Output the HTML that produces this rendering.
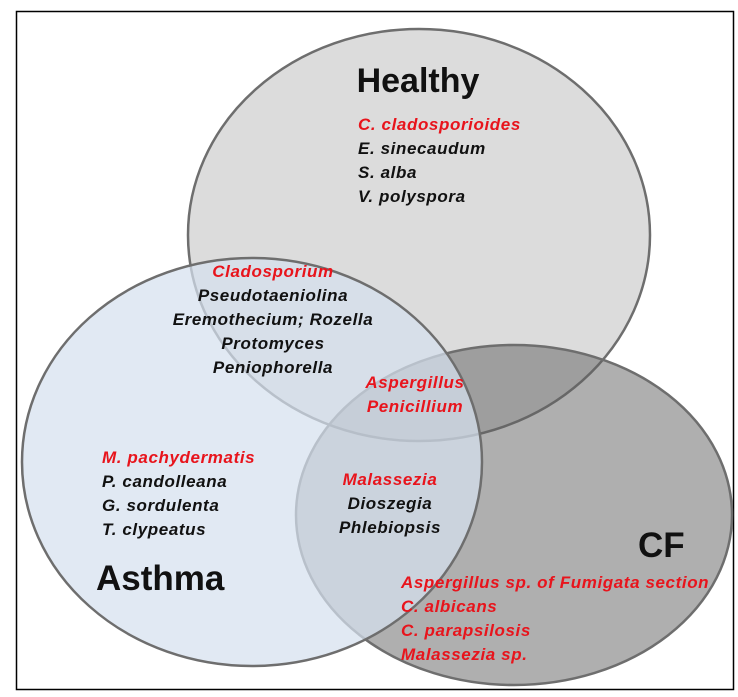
<!DOCTYPE html>
<html><head><meta charset="utf-8"><style>
html,body{margin:0;padding:0;background:#fff;}
svg{display:block;}
text{font-family:"Liberation Sans",Arial,sans-serif;font-weight:bold;}
.s{font-style:italic;font-size:17px;letter-spacing:0.6px;}
.r{fill:#e8141c;}
.b{fill:#111;}
</style></head><body>
<svg width="738" height="697" viewBox="0 0 738 697" xmlns="http://www.w3.org/2000/svg">
<rect x="16.5" y="11.5" width="717" height="678" fill="#fff" stroke="#000" stroke-width="1.5"/>
<ellipse cx="419" cy="235" rx="231" ry="206" fill="#dcdcdc" stroke="#6e6e6e" stroke-width="2.5"/>
<ellipse cx="514" cy="515" rx="218" ry="170" fill="#5f5f5f" fill-opacity="0.5" stroke="#6e6e6e" stroke-width="2.5"/>
<ellipse cx="252" cy="462" rx="230" ry="204" fill="#d6e0ee" fill-opacity="0.72" stroke="#6e6e6e" stroke-width="2.5"/>

<text x="418" y="92" font-size="34" text-anchor="middle" class="b">Healthy</text>
<g class="s">
<text x="358" y="130" class="r">C. cladosporioides</text>
<text x="358" y="154" class="b">E. sinecaudum</text>
<text x="358" y="178" class="b">S. alba</text>
<text x="358" y="202" class="b">V. polyspora</text>
</g>
<g class="s" text-anchor="middle">
<text x="273" y="277" class="r">Cladosporium</text>
<text x="273" y="301" class="b">Pseudotaeniolina</text>
<text x="273" y="325" class="b">Eremothecium; Rozella</text>
<text x="273" y="349" class="b">Protomyces</text>
<text x="273" y="373" class="b">Peniophorella</text>
<text x="415" y="388" class="r">Aspergillus</text>
<text x="415" y="412" class="r">Penicillium</text>
<text x="390" y="485" class="r">Malassezia</text>
<text x="390" y="509" class="b">Dioszegia</text>
<text x="390" y="533" class="b">Phlebiopsis</text>
</g>
<g class="s">
<text x="102" y="463" class="r">M. pachydermatis</text>
<text x="102" y="487" class="b">P. candolleana</text>
<text x="102" y="511" class="b">G. sordulenta</text>
<text x="102" y="535" class="b">T. clypeatus</text>
<text x="401" y="588" class="r">Aspergillus sp. of Fumigata section</text>
<text x="401" y="612" class="r">C. albicans</text>
<text x="401" y="636" class="r">C. parapsilosis</text>
<text x="401" y="660" class="r">Malassezia sp.</text>
</g>
<text x="638" y="557" font-size="35" class="b">CF</text>
<text x="96" y="590" font-size="35" class="b">Asthma</text>
</svg>
</body></html>
